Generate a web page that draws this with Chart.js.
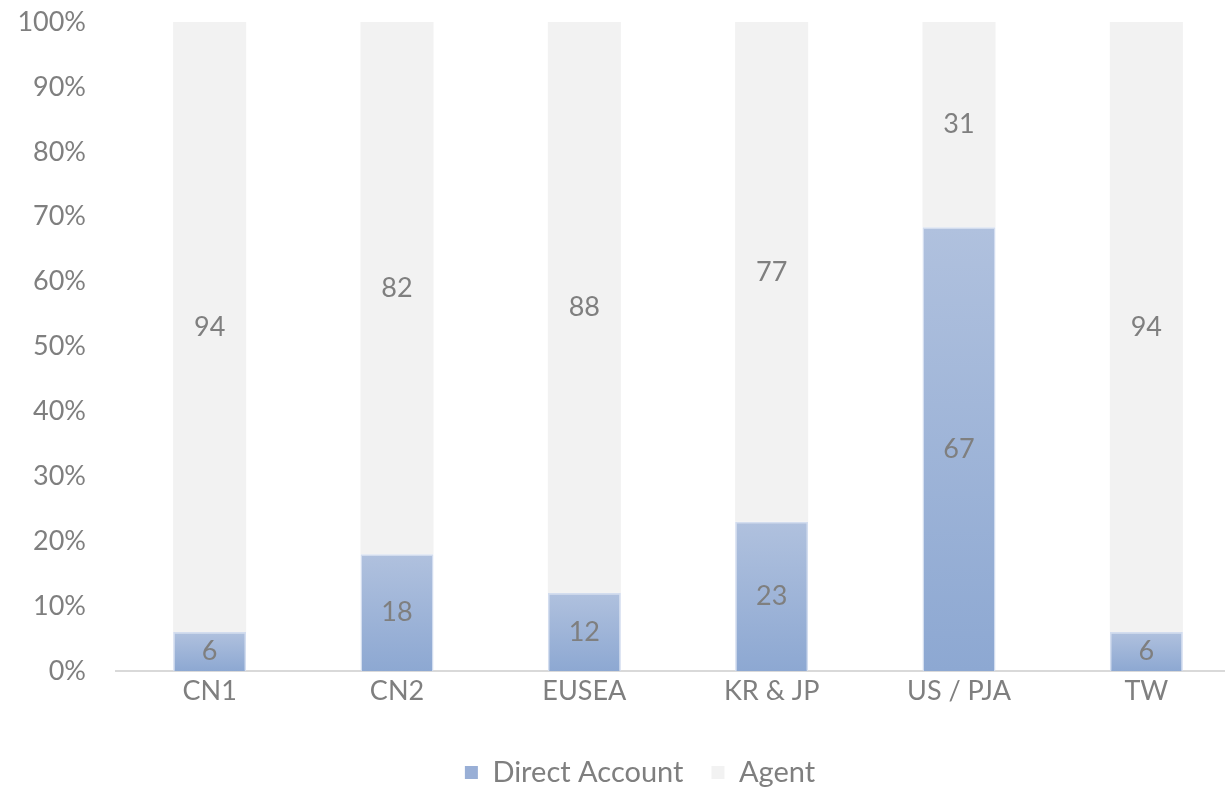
<!DOCTYPE html>
<html>
<head>
<meta charset="utf-8">
<script src="https://cdn.jsdelivr.net/npm/chart.js@4.4.0/dist/chart.umd.min.js"></script>
<style>
	html, body { margin: 0; padding: 0; background: #ffffff; overflow: hidden; }
	#wrap { position: relative; width: 1240px; height: 790px; }
</style>
</head>
<body>
<div id="wrap"><canvas id="myChart"></canvas></div>
<script>
const categories = ['CN1', 'CN2', 'EUSEA', 'KR & JP', 'US / PJA', 'TW'];
const directAccount = [6, 18, 12, 23, 67, 6];
const agent = [94, 82, 88, 77, 31, 94];
const yTicks = [0, 10, 20, 30, 40, 50, 60, 70, 80, 90, 100];

const text_color = '#7F7F7F';
const font_family = 'Lato, "Open Sans", sans-serif';

// 100% stacked: each bar is shown as share of its own total
const totals = categories.map((c, i) => directAccount[i] + agent[i]);
const directPct = directAccount.map((v, i) => v / totals[i] * 100);
const agentPct = agent.map((v, i) => v / totals[i] * 100);

function directGradient(context) {
	const chart = context.chart;
	const y = chart.scales.y;
	if (!chart.chartArea || !y || context.dataIndex === undefined) return '#9AB0D7';
	const bottom = y.getPixelForValue(0);
	const top = y.getPixelForValue(directPct[context.dataIndex]);
	if (!isFinite(top) || !isFinite(bottom) || top === bottom) return '#9AB0D7';
	const g = chart.ctx.createLinearGradient(0, bottom, 0, top);
	g.addColorStop(0, '#8DA8D2');
	g.addColorStop(1, '#B0C1DE');
	return g;
}

// draw the raw numbers in the middle of each segment
const valueLabels = {
	id: 'valueLabels',
	afterDatasetsDraw(chart) {
		const ctx = chart.ctx;
		ctx.save();
		ctx.fillStyle = text_color;
		ctx.font = '27px ' + font_family;
		ctx.textAlign = 'center';
		ctx.textBaseline = 'middle';
		const raw = [directAccount, agent];
		chart.data.datasets.forEach((ds, di) => {
			const meta = chart.getDatasetMeta(di);
			meta.data.forEach((bar, i) => {
				const mid = (bar.y + bar.base) / 2;
				ctx.fillText(String(raw[di][i]), bar.x, mid);
			});
		});
		ctx.restore();
	}
};

// legend sits a bit right of the canvas centre in the original
const legendShift = {
	id: 'legendShift',
	afterLayout(chart) {
		if (chart.legend) {
			chart.legend.left += 20;
			chart.legend.right += 20;
		}
	}
};

const data = {
	labels: categories,
	datasets: [
		{
			label: 'Direct Account',
			data: directPct,
			backgroundColor: directGradient,
			borderColor: '#D3DDEF',
			borderWidth: 1.5,
			borderSkipped: 'bottom',
			barPercentage: 0.39,
			categoryPercentage: 1.0,
		},
		{
			label: 'Agent',
			data: agentPct,
			backgroundColor: '#F2F2F2',
			borderColor: '#FFFFFF',
			borderWidth: 0,
			barPercentage: 0.39,
			categoryPercentage: 1.0,
		},
	],
};

const config = {
	type: 'bar',
	data: data,
	plugins: [valueLabels, legendShift],
	options: {
		responsive: true,
		maintainAspectRatio: false,
		animation: false,
		layout: { padding: { top: 22, left: 0, right: 0, bottom: -7 } },
		plugins: {
			tooltip: { enabled: false },
			legend: {
				position: 'bottom',
				labels: {
					color: text_color,
					font: { family: font_family, size: 29 },
					boxWidth: 13,
					boxHeight: 13,
					padding: 28,
					generateLabels(chart) {
						return [
							{ text: 'Direct Account', fillStyle: '#99AFD6', strokeStyle: '#99AFD6', lineWidth: 0, fontColor: text_color, datasetIndex: 0 },
							{ text: 'Agent', fillStyle: '#F2F2F2', strokeStyle: '#F2F2F2', lineWidth: 0, fontColor: text_color, datasetIndex: 1 },
						];
					},
				},
			},
		},
		scales: {
			x: {
				stacked: true,
				grid: { display: false, drawTicks: false },
				border: { display: true, color: '#D9D9D9', width: 2 },
				ticks: {
					color: text_color,
					font: { family: font_family, size: 27 },
					padding: 4,
				},
				afterFit(scale) { scale.height = 59; },
			},
			y: {
				stacked: true,
				min: 0,
				max: 100,
				afterBuildTicks(scale) {
					scale.ticks = yTicks.map(v => ({ value: v }));
				},
				grid: { display: false, drawTicks: false },
				border: { display: false },
				ticks: {
					color: text_color,
					font: { family: font_family, size: 27 },
					padding: 30,
					callback: v => v + '%',
				},
				afterFit(scale) {
					scale.width = 116;
					scale.paddingTop = 0;
					scale.paddingBottom = 0;
				},
			},
		},
	},
};

var myChart = new Chart(document.getElementById('myChart'), config);
</script>
</body>
</html>
